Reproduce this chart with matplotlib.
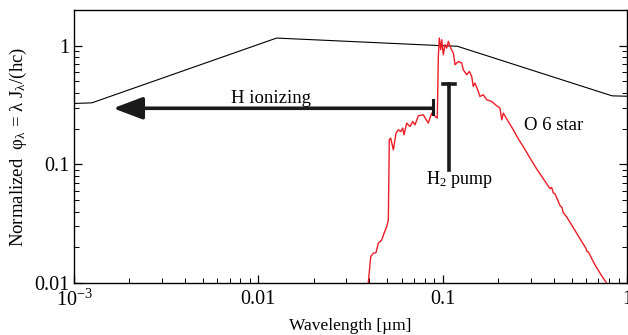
import numpy as np
import matplotlib
matplotlib.use("Agg")
import matplotlib.pyplot as plt
from matplotlib.ticker import FixedLocator, LogLocator, NullFormatter

matplotlib.rcParams.update({
    'font.family': 'Liberation Serif',
    'mathtext.fontset': 'custom',
    'mathtext.rm': 'Liberation Serif',
    'mathtext.it': 'Liberation Serif',
    'mathtext.default': 'regular',
})

# ------------------------------------------------------------------------------------- #
# data (wavelength in um, normalized photon flux)

# interstellar field (black line)
isrf_wl = [1.0e-3, 1.25e-3, 0.01256, 0.1, 0.12, 0.83, 1.0]
isrf_phi = [0.326, 0.33, 1.16, 1.0, 0.99, 0.378, 0.375]

# O 6 star spectrum (red line)
star_wl = [0.03936, 0.04071, 0.04205, 0.04350, 0.04476, 0.04671, 0.04807, 0.04971,
           0.05072, 0.05135, 0.05224, 0.05400, 0.05585, 0.05746, 0.05922, 0.06071,
           0.06171, 0.06382, 0.06651, 0.06880, 0.07079, 0.07377, 0.07852, 0.08356,
           0.08717, 0.09203, 0.09352, 0.09471, 0.09590, 0.09759, 0.09881, 0.1008,
           0.1030, 0.1052, 0.1073, 0.1106, 0.1142, 0.1167, 0.1216, 0.1269,
           0.1294, 0.1350, 0.1395, 0.1437, 0.1466, 0.1497, 0.1561, 0.1594,
           0.1661, 0.1733, 0.1845, 0.1964, 0.2047, 0.2091, 0.2133, 0.2270,
           0.2416, 0.2572, 0.2738, 0.2977, 0.3237, 0.3591, 0.3822, 0.3900,
           0.3980, 0.4068, 0.4330, 0.4450, 0.4500, 0.4709, 0.5012, 0.5560,
           0.6000, 0.6050, 0.6166, 0.6706, 0.7292, 0.7762]
star_phi = [0.0095, 0.01667, 0.01782, 0.01803, 0.02163, 0.02306, 0.02626, 0.02986,
            0.03402, 0.1609, 0.1664, 0.1326, 0.1834, 0.1955, 0.1891, 0.2020,
            0.1774, 0.2227, 0.2084, 0.2297, 0.2154, 0.2566, 0.2616, 0.2227,
            0.2704, 0.2502, 0.2454, 0.8122, 1.161, 0.9253, 1.124, 0.8396,
            1.020, 0.9563, 1.087, 0.9563, 0.8678, 0.6913, 0.7370, 0.7145,
            0.6272, 0.5692, 0.6070, 0.5507, 0.4535, 0.4844, 0.4114, 0.3734,
            0.3859, 0.3502, 0.3388, 0.3116, 0.2980, 0.2374, 0.2704, 0.2297,
            0.1955, 0.1640, 0.1410, 0.1130, 0.0915, 0.0720, 0.0625, 0.0640,
            0.0575, 0.0565, 0.0450, 0.0430, 0.0395, 0.0360, 0.0308, 0.0236,
            0.0195, 0.0185, 0.0183, 0.01420, 0.01150, 0.00994]

# annotations
hion_tip, hion_end, hion_y = 1.63e-3, 0.0881, 0.297
hion_bar = [0.267, 0.350]
hion_label = (0.0117, 0.330)
h2_x, h2_cap, h2_y = 0.1082, [0.100, 0.1167], [0.0899, 0.478]
h2_label = (0.1227, 0.074)
star_label = (0.2763, 0.211)

xticks = [1e-3, 0.01, 0.1, 1]
xticklabels = [r'10$^{-3}$', '0.01', '0.1', '1']
yticks = [0.01, 0.1, 1]
yticklabels = ['0.01', '0.1', '1']

# ------------------------------------------------------------------------------------- #
fig = plt.figure(figsize=(6.28, 3.35), dpi=100)
ax = fig.add_axes([74 / 628, 52 / 335, 553 / 628, 273 / 335])

ax.plot(isrf_wl, isrf_phi, color='black', linewidth=0.8)
ax.plot(star_wl, star_phi, color='#ee1c25', linewidth=1.0)

# H ionizing arrow
ax.annotate('', xy=(hion_tip, hion_y), xytext=(hion_end, hion_y),
            arrowprops=dict(arrowstyle='-|>,head_length=0.9,head_width=0.34',
                            mutation_scale=20, lw=2.6, color='#1a1a1a',
                            shrinkA=0, shrinkB=0))
ax.plot([hion_end, hion_end], hion_bar, color='#1a1a1a', linewidth=2.2)
ax.text(*hion_label, 'H ionizing', fontsize=13.5, ha='center', va='baseline')

# H2 pump marker
ax.plot([h2_x, h2_x], h2_y, color='#1a1a1a', linewidth=2.6)
ax.plot(h2_cap, [h2_y[1], h2_y[1]], color='#1a1a1a', linewidth=2.6)
ax.text(*h2_label, 'H$_2$ pump', fontsize=13, ha='center', va='center')

ax.text(*star_label, 'O 6 star', fontsize=13.5, ha='left', va='center')

ax.set_xscale('log')
ax.set_yscale('log')
ax.set_xlim((1e-3, 1))
ax.set_ylim((0.01, 2.0))

ax.xaxis.set_major_locator(FixedLocator(xticks))
ax.set_xticklabels(xticklabels)
ax.yaxis.set_major_locator(FixedLocator(yticks))
ax.set_yticklabels(yticklabels)
ax.xaxis.set_minor_locator(LogLocator(base=10, subs=np.arange(2, 10)))
ax.yaxis.set_minor_locator(LogLocator(base=10, subs=np.arange(2, 10)))
ax.xaxis.set_minor_formatter(NullFormatter())
ax.yaxis.set_minor_formatter(NullFormatter())

ax.tick_params(which='both', direction='in', top=False, right=True, labelsize=14.5)
ax.tick_params(axis='x', pad=5)
ax.tick_params(axis='y', pad=3)
ax.tick_params(which='major', length=6, width=0.9)
ax.tick_params(which='minor', length=3.5, width=0.7)
for sp in ax.spines.values():
    sp.set_linewidth(1.0)

ax.set_xlabel('Wavelength [µm]', fontsize=12.5, labelpad=5)
ax.set_ylabel(r'Normalized  φ$_λ$ = λ J$_λ$/(hc)', fontsize=13.5, labelpad=4)

plt.savefig('out.png', dpi=100)
plt.close()
